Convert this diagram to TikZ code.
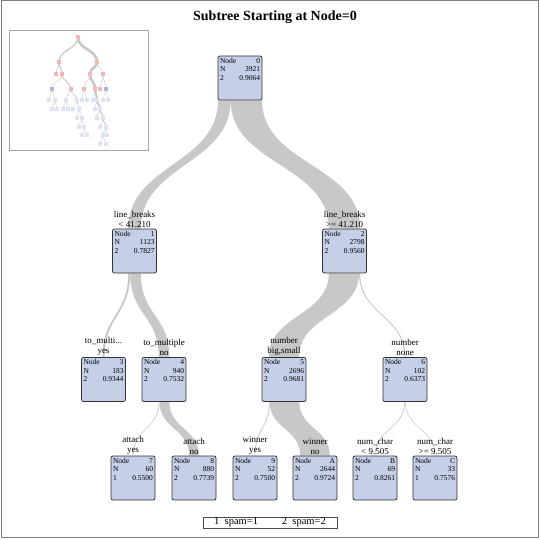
\documentclass[tikz,border=0pt]{standalone}
\usepackage{fontspec}
\setmainfont{Liberation Serif}
\usepackage{tikz}
\usetikzlibrary{calc, backgrounds}
\definecolor{boxblue}{RGB}{198,207,232}
\definecolor{flowgray}{RGB}{200,200,200}
\definecolor{minipink}{RGB}{244,182,182}
\definecolor{miniblue}{RGB}{168,182,226}
\definecolor{minipale}{RGB}{222,227,244}
\tikzset{
    treebox/.style={rectangle, draw=black!80, line width=0.8pt, rounded corners=2pt, fill=boxblue, inner sep=2pt, minimum size=44pt},
    split/.style={anchor=south, align=center, inner sep=1pt, font=\fontsize{9}{10}\selectfont},
    flow/.style={fill=flowgray},
    minibox/.style={rectangle, inner sep=0pt, minimum size=4.5pt},
    minilink/.style={draw=flowgray},
    legend/.style={rectangle, draw=black!70, line width=0.8pt, minimum width=134pt, minimum height=11pt, inner sep=1pt, font=\fontsize{10.5}{11}\selectfont},
    heading/.style={font=\bfseries\fontsize{14}{16}\selectfont}
}
\newcommand{\nodeinfo}[4]{%
  \begin{minipage}[t][40pt][t]{40pt}
    \fontsize{7.5}{8.5}\selectfont
    Node\hfill #1\\N\hfill #2\\#3\hfill #4
  \end{minipage}}
% band from parent bottom (offset, width) to child top
\newcommand{\flowband}[4]{%
  \path ($(#1.south)+(#3,0)$) coordinate (pa)
        ($(#1.south)+(#3+#4,0)$) coordinate (pb)
        ($(#2.north)+(-#4/2,0)$) coordinate (ca)
        ($(#2.north)+(#4/2,0)$) coordinate (cb)
        ($(#1.south)!0.5!(#2.north)$) coordinate (mid);
  \fill[flow] (pa) .. controls (pa |- mid) and (ca |- mid) .. (ca)
      -- (cb) .. controls (cb |- mid) and (pb |- mid) .. (pb) -- cycle;
}

\begin{document}
\begin{tikzpicture}[x=1pt, y=-1pt]
    \useasboundingbox (0,0) rectangle (540,540);
    \draw[black!50, line width=1pt] (1,1) rectangle (538.5,537.5);

    \node[heading] (title) at (275,17) {Subtree Starting at Node=0};

    % overview of the whole tree
    \draw[black!35, line width=0.8pt] (9.5,30) rectangle (148,150.5);
    \foreach \n/\x/\y in {0/78/37, 1/59/62, 2/97/62, 3/56/74, 4/62/74, 5/90/74, 6/103/74,
        7/52/89, 8/71/89, 9/84/89, a/95/89, b/100/89, c/106/89,
        p1/49/100, p2/55/100, p3/66/100, p4/77/100, p5/82/100, p6/87/100,
        p7/93/100, p8/97/100, p9/103/100, p10/108/100,
        q1/52/109, q2/57/109, q3/63/109, q4/68/109, q5/73/109, q6/79/109, q7/95/109, q8/100/109,
        r1/77/118, r2/82/118, r3/97/118, r4/103/118,
        s1/79/127, s2/84/127, s3/100/127, s4/106/127,
        t1/82/135, t2/87/135, t3/103/135, t4/107/135,
        u1/100/144, u2/106/144}
        \coordinate (m\n) at (\x,\y);
    \foreach \a/\b/\w in {0/1/1.2, 0/2/2.8, 1/3/0.5, 1/4/1.0, 2/5/2.7, 2/6/0.5,
        4/7/0.4, 4/8/0.9, 5/9/0.4, 5/a/2.6, 6/b/0.4, 6/c/0.4,
        7/p1/0.3, 7/p2/0.3, 8/p3/0.4, 8/p4/0.6, 9/p5/0.3, 9/p6/0.3,
        a/p7/0.4, a/p8/2.0, c/p9/0.3, c/p10/0.3,
        p2/q1/0.3, p2/q2/0.3, p3/q3/0.3, p3/q4/0.3, p4/q5/0.3, p4/q6/0.5,
        p8/q7/0.4, p8/q8/1.6, q6/r1/0.3, q6/r2/0.4, q8/r3/0.4, q8/r4/1.2,
        r2/s1/0.3, r2/s2/0.3, r4/s3/0.4, r4/s4/0.8,
        s2/t1/0.3, s2/t2/0.3, s4/t3/0.6, s4/t4/0.3, t3/u1/0.4, t3/u2/0.3} {
        \path ($(m\a)!0.5!(m\b)$) coordinate (mm);
        \draw[minilink, line width=\w pt] (m\a) .. controls (m\a |- mm) and (m\b |- mm) .. (m\b);
    }
    \foreach \n in {0,1,2,3,4,5,6,8,9,a,b}
        \node[minibox, fill=minipink] (mini\n) at (m\n) {};
    \foreach \n in {7,c}
        \node[minibox, fill=miniblue] (mini\n) at (m\n) {};
    \foreach \n in {p1,p2,p3,p4,p5,p6,p7,p8,p9,p10,q1,q2,q3,q4,q5,q6,q7,q8,
        r1,r2,r3,r4,s1,s2,s3,s4,t1,t2,t3,t4,u1,u2}
        \node[minibox, fill=minipale] (mini\n) at (m\n) {};

    % tree nodes
    \node[treebox] (n0) at (240,78) {\nodeinfo{0}{3921}{2}{0.9064}};
    \node[treebox] (n1) at (134.5,251) {\nodeinfo{1}{1123}{2}{0.7827}};
    \node[treebox] (n2) at (344.5,251) {\nodeinfo{2}{2798}{2}{0.9560}};
    \node[treebox] (n3) at (103.5,379.5) {\nodeinfo{3}{183}{2}{0.9344}};
    \node[treebox] (n4) at (164,379.5) {\nodeinfo{4}{940}{2}{0.7532}};
    \node[treebox] (n5) at (284,379.5) {\nodeinfo{5}{2696}{2}{0.9681}};
    \node[treebox] (n6) at (405,379.5) {\nodeinfo{6}{102}{2}{0.6373}};
    \node[treebox] (n7) at (133,478) {\nodeinfo{7}{60}{1}{0.5500}};
    \node[treebox] (n8) at (194,478) {\nodeinfo{8}{880}{2}{0.7739}};
    \node[treebox] (n9) at (255,478) {\nodeinfo{9}{52}{2}{0.7500}};
    \node[treebox] (nA) at (315,478) {\nodeinfo{A}{2644}{2}{0.9724}};
    \node[treebox] (nB) at (375,478) {\nodeinfo{B}{69}{2}{0.8261}};
    \node[treebox] (nC) at (435,478) {\nodeinfo{C}{33}{1}{0.7576}};

    % bands, width by N
    \begin{pgfonlayer}{background}
        \flowband{n0}{n1}{-22}{12.6}
        \flowband{n0}{n2}{-9.4}{31.4}
        \flowband{n1}{n3}{-6.3}{2.05}
        \flowband{n1}{n4}{-4.25}{10.55}
        \flowband{n2}{n5}{-15.7}{30.25}
        \flowband{n2}{n6}{14.55}{1.14}
        \flowband{n4}{n7}{-5.28}{0.8}
        \flowband{n4}{n8}{-4.48}{9.88}
        \flowband{n5}{n9}{-15.13}{0.8}
        \flowband{n5}{nA}{-14.33}{29.67}
        \flowband{n6}{nB}{-0.57}{0.8}
        \flowband{n6}{nC}{0.23}{0.6}
    \end{pgfonlayer}

    % split rules
    \node[split] (s1) at (n1.north) {line\_breaks\\< 41.210};
    \node[split] (s2) at (n2.north) {line\_breaks\\>= 41.210};
    \node[split] (s3) at (n3.north) {to\_multi...\\yes};
    \node[split] (s4) at (n4.north) {to\_multiple\\no};
    \node[split] (s5) at (n5.north) {number\\big,small};
    \node[split] (s6) at (n6.north) {number\\none};
    \node[split] (s7) at (n7.north) {attach\\yes};
    \node[split] (s8) at (n8.north) {attach\\no};
    \node[split] (s9) at (n9.north) {winner\\yes};
    \node[split] (sA) at (nA.north) {winner\\no};
    \node[split] (sB) at (nB.north) {num\_char\\< 9.505};
    \node[split] (sC) at (nC.north) {num\_char\\>= 9.505};

    \node[legend] (key) at (270,522.5) {1~~spam=1\hspace{24pt}2~~spam=2};
\end{tikzpicture}
\end{document}
